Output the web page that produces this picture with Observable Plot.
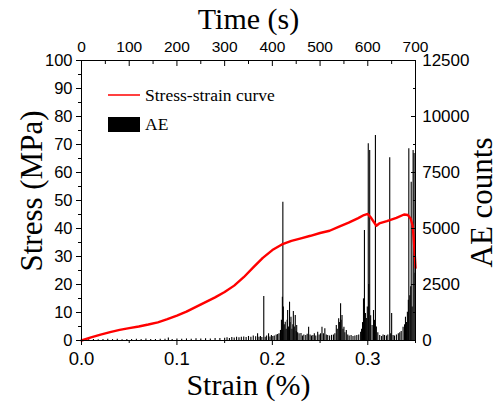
<!DOCTYPE html>
<html><head><meta charset="utf-8">
<script src="https://cdn.jsdelivr.net/npm/d3@7"></script>
<script src="https://cdn.jsdelivr.net/npm/@observablehq/plot@0.6"></script>
<style>
body{margin:0;background:#fff;}
#wrap{position:relative;width:502px;height:405px;}
#legend{position:absolute;left:0;top:0;pointer-events:none;}
</style></head><body>
<div id="wrap"></div>
<script>
// Stress-strain curve
const strain = [0, 0.01, 0.02, 0.03, 0.04, 0.05, 0.06, 0.07, 0.08, 0.09, 0.10, 0.11, 0.12, 0.13, 0.14, 0.15, 0.16, 0.17, 0.18, 0.19, 0.20, 0.21, 0.22, 0.23, 0.24, 0.25, 0.26, 0.27, 0.28, 0.29, 0.296, 0.300, 0.303, 0.306, 0.309, 0.312, 0.32, 0.33, 0.338, 0.342, 0.345, 0.347, 0.348, 0.349, 0.350];
const stress = [0, 1.1, 2.1, 3.0, 3.8, 4.4, 5.0, 5.7, 6.5, 7.6, 8.9, 10.3, 12.0, 13.7, 15.4, 17.3, 19.6, 22.6, 26.1, 29.5, 32.3, 34.3, 35.6, 36.5, 37.4, 38.4, 39.2, 40.7, 42.1, 43.7, 44.8, 45.2, 44.0, 42.5, 41.0, 41.8, 42.6, 43.8, 45.0, 44.8, 43.5, 41.0, 37.0, 32.0, 26.0];

// AE counts vs time (s)
const aeTime = [5,15,25,35,45,55,65,75,85,95,105,115,125,135,145,155,165,175,182,190,200,210,220,230,240,250,260,270,280,290,
  300,305,310,315,320,325,330,335,340,345,350,355,360,365,
  369,372,375,378,382,385,388,392,395,398,401,404,408,411,414,417,419,421,422,423,425,427,429,431,432,434,436,437,439,441,443,444,446,448,450,451,453,456,460,463,466,470,473,476,479,482,485,488,491,495,498,501,504,507,510,513,516,520,524,528,531,534,536,539,541,543,544,546,548,550,552,555,558,561,565,569,573,577,581,585,587,589,591,593,595,597,599,601,602,604,606,609,612,614,616,618,621,625,629,632,635,639,642,646,648,650,653,656,660,664,667,670,674,677,679,681,683,685,686,688,690,691,693,695,697,699];
const aeCount = [40,30,50,35,45,60,40,55,35,50,45,60,40,70,50,45,60,55,110,50,65,55,70,60,75,65,80,70,90,85,
  100,120,90,130,110,150,120,140,160,130,180,150,200,170,
  300,150,180,130,1964,150,200,300,160,220,180,200,250,270,300,450,900,1930,6174,1500,700,820,500,900,1340,600,1710,800,1040,500,700,1295,600,1116,400,670,350,300,310,200,250,220,280,595,250,200,220,300,200,370,250,300,595,300,520,250,220,200,230,250,300,670,500,970,800,1640,900,1116,500,595,350,446,250,200,223,180,200,220,250,370,500,800,1860,4910,1200,980,1500,8780,2500,8480,1100,670,1340,900,9150,600,350,223,180,250,223,200,250,8155,300,1200,223,200,250,300,350,400,595,700,1040,800,1265,1800,8560,2000,2400,7070,1500,8480,8350,3000];

// Ticks
const stressTicks = [0,10,20,30,40,50,60,70,80,90,100];
const stressMinor = [5,15,25,35,45,55,65,75,85,95];
const strainTicks = [0,0.1,0.2,0.3];
const strainMinor = [0.05,0.15,0.25,0.35];
const timeTicks = [0,100,200,300,400,500,600,700];
const timeMinor = [50,150,250,350,450,550,650];
const aeTicks = [0,2500,5000,7500,10000,12500];
const aeMinor = [1250,3750,6250,8750,11250];

const timeToStrain = 0.35 / 700;
const aeToStress = 100 / 12500;

const curve = strain.map((s, i) => ({strain: s, stress: stress[i]}));
const ae = aeTime.map((t, i) => ({t, c: aeCount[i]}));

const serif = "Liberation Serif";
const sans = "Liberation Sans";

const chart = Plot.plot({
  width: 502, height: 405,
  marginLeft: 81, marginRight: 87, marginTop: 60, marginBottom: 65,
  x: {domain: [0, 0.35]},
  y: {domain: [0, 100]},
  style: {fontFamily: sans, color: "black", background: "white"},
  marks: [
    Plot.ruleX(ae, {x: d => d.t * timeToStrain, y1: 0, y2: d => d.c * aeToStress, stroke: "black", strokeWidth: 1.1}),
    Plot.line(curve, {x: "strain", y: "stress", stroke: "#ff0000", strokeWidth: 2.4}),
    Plot.frame({stroke: "black"}),
    Plot.axisY(stressTicks, {anchor: "left", tickSize: 5, tickPadding: 4, fontSize: 16.5, fontFamily: sans, tickFormat: d => String(d), label: null}),
    Plot.axisY(stressMinor, {anchor: "left", tickSize: 3, tickFormat: () => "", label: null}),
    Plot.axisX(strainTicks, {anchor: "bottom", tickSize: 5, tickPadding: 6.5, fontSize: 18.5, fontFamily: sans, tickFormat: d3.format(".1f"), label: null}),
    Plot.axisX(strainMinor, {anchor: "bottom", tickSize: 3, tickFormat: () => "", label: null}),
    Plot.axisX(timeTicks.map(t => t * timeToStrain), {anchor: "top", tickSize: -5, tickPadding: 13.3, fontSize: 15.5, fontFamily: sans, tickFormat: d => String(Math.round(d / timeToStrain)), label: null}),
    Plot.axisX(timeMinor.map(t => t * timeToStrain), {anchor: "top", tickSize: -3, tickFormat: () => "", label: null}),
    Plot.axisY(aeTicks.map(c => c * aeToStress), {anchor: "right", tickSize: -5, tickPadding: 11.7, fontSize: 17, fontFamily: sans, tickFormat: d => String(Math.round(d / aeToStress)), label: null}),
    Plot.axisY(aeMinor.map(c => c * aeToStress), {anchor: "right", tickSize: -3, tickFormat: () => "", label: null}),
    Plot.text(["Strain (%)"], {text: d => d, frameAnchor: "bottom", dy: 54, lineAnchor: "bottom", textAnchor: "middle", fontSize: 30, fontFamily: serif}),
    Plot.text(["Time (s)"], {text: d => d, frameAnchor: "top", dy: -32, lineAnchor: "bottom", textAnchor: "middle", fontSize: 30, fontFamily: serif}),
    Plot.text(["Stress (MPa)"], {text: d => d, frameAnchor: "left", dx: -40, dy: -9.5, rotate: -90, lineAnchor: "bottom", textAnchor: "middle", fontSize: 31, fontFamily: serif}),
    Plot.text(["AE counts"], {text: d => d, frameAnchor: "right", dx: 76.5, dy: 2, rotate: -90, lineAnchor: "bottom", textAnchor: "middle", fontSize: 31, fontFamily: serif})
  ]
});
const wrap = document.getElementById("wrap");
wrap.appendChild(chart);

// Legend overlay
const ns = "http://www.w3.org/2000/svg";
const lg = document.createElementNS(ns, "svg");
lg.setAttribute("id", "legend");
lg.setAttribute("width", 502);
lg.setAttribute("height", 405);
lg.innerHTML = `
  <line x1="108" x2="140" y1="95" y2="95" stroke="#ff0000" stroke-width="1.5"/>
  <text x="145" y="100.5" font-family="${serif}" font-size="17.5" fill="black">Stress-strain curve</text>
  <rect x="108" y="117" width="32" height="15" fill="black"/>
  <text x="145" y="130" font-family="${serif}" font-size="17.5" fill="black">AE</text>`;
wrap.appendChild(lg);
</script>
</body></html>
